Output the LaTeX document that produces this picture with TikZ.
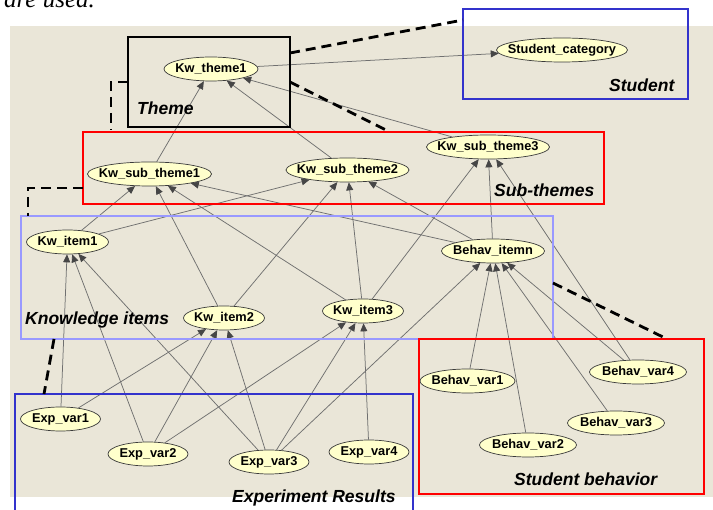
\documentclass[tikz,border=0pt]{standalone}
\usepackage{fontspec}
\setsansfont{Liberation Sans}
\newfontfamily\paperfont{Liberation Serif}
\usetikzlibrary{shapes.geometric,arrows.meta}

\definecolor{canvas}{HTML}{EAE6D8}
\definecolor{nodefill}{HTML}{FFFFCC}
\definecolor{nodeline}{HTML}{3A3A3A}
\definecolor{edgegray}{HTML}{707070}
\definecolor{headgray}{HTML}{464646}
\definecolor{boxred}{HTML}{FF0000}
\definecolor{boxblue}{HTML}{3333CC}
\definecolor{boxlilac}{HTML}{9999FF}

% variable names are set in a zero-width box so the ellipse size is set by the style
\newcommand{\varname}[1]{\makebox[0pt]{\vphantom{Kg}#1}}

\tikzset{
  var/.style={ellipse, draw=nodeline, line width=0.7pt, fill=nodefill,
    inner sep=0pt, minimum height=24pt,
    font=\sffamily\bfseries\fontsize{12.8}{15}\selectfont},
  link/.style={draw=edgegray, line width=0.75pt,
    -{Triangle[length=8pt,width=7pt,color=headgray]}},
  groupbox/.style={line width=2.4pt},
  grouptitle/.style={anchor=base west, inner sep=0pt,
    font=\sffamily\bfseries\itshape\fontsize{17.5}{20}\selectfont},
  tie/.style={draw=black, line width=2.8pt, dash pattern=on 10pt off 6pt}
}

\begin{document}
\begin{tikzpicture}[x=1pt, y=-1pt]
\useasboundingbox (0,0) rectangle (713,510);
\clip (0,0) rectangle (713,510);
\fill[white] (0,0) rectangle (713,510);
\fill[canvas] (10,26) rectangle (713,497);

% fragment of the running text above the figure
\node[anchor=base west, inner sep=0pt,
  font=\paperfont\itshape\fontsize{25}{28}\selectfont] (runtext) at (4,8) {are used.};

% variables
\node[var, minimum width=94pt]  (kt1) at (211,69)   {\varname{Kw\_theme1}};
\node[var, minimum width=131pt] (sc)  at (562,50)   {\varname{Student\_category}};
\node[var, minimum width=124pt] (st1) at (149.5,174) {\varname{Kw\_sub\_theme1}};
\node[var, minimum width=123pt] (st2) at (347.5,170) {\varname{Kw\_sub\_theme2}};
\node[var, minimum width=123pt] (st3) at (488,147)  {\varname{Kw\_sub\_theme3}};
\node[var, minimum width=82pt]  (ki1) at (67.5,242) {\varname{Kw\_item1}};
\node[var, minimum width=81pt]  (ki2) at (224,318)  {\varname{Kw\_item2}};
\node[var, minimum width=81pt]  (ki3) at (363,311)  {\varname{Kw\_item3}};
\node[var, minimum width=103pt] (bi)  at (493,251)  {\varname{Behav\_itemn}};
\node[var, minimum width=95pt]  (bv1) at (467.5,381) {\varname{Behav\_var1}};
\node[var, minimum width=97pt]  (bv2) at (528,445)  {\varname{Behav\_var2}};
\node[var, minimum width=97pt]  (bv3) at (616,423)  {\varname{Behav\_var3}};
\node[var, minimum width=97pt]  (bv4) at (638,372)  {\varname{Behav\_var4}};
\node[var, minimum width=80pt]  (ev1) at (60.5,419) {\varname{Exp\_var1}};
\node[var, minimum width=80pt]  (ev2) at (148,454)  {\varname{Exp\_var2}};
\node[var, minimum width=80pt]  (ev3) at (269,462)  {\varname{Exp\_var3}};
\node[var, minimum width=80pt]  (ev4) at (369,452)  {\varname{Exp\_var4}};

% dependencies (arrow points at the parent)
\foreach \a/\b in {kt1/sc, st1/kt1, st2/kt1, st3/kt1,
  ki1/st1, ki1/st2, ki2/st1, ki2/st2, ki3/st1, ki3/st2, ki3/st3,
  bi/st1, bi/st2, bi/st3,
  ev1/ki1, ev1/ki2, ev2/ki1, ev2/ki2, ev2/ki3,
  ev3/ki1, ev3/ki2, ev3/ki3, ev3/bi, ev4/ki3,
  bv1/bi, bv2/bi, bv3/bi, bv4/bi, bv4/st3}
  \draw[link] (\a) -- (\b);

% group frames
\draw[groupbox, draw=black, line width=2pt] (128,37) rectangle (290,127);
\draw[groupbox, draw=boxblue] (463,9) rectangle (688,99);
\draw[groupbox, draw=boxred] (83,132) rectangle (604,204);
\draw[groupbox, draw=boxlilac] (21,216) rectangle (553,339);
\draw[groupbox, draw=boxred] (419,339) rectangle (704,494);
\draw[groupbox, draw=boxblue] (15,394) rectangle (413,530);

% group titles
\node[grouptitle] (ttheme)   at (137,115) {Theme};
\node[grouptitle] (tstudent) at (609,92)  {Student};
\node[grouptitle] (tsub)     at (494,197) {Sub-themes};
\node[grouptitle] (tknow)    at (25,325)  {Knowledge items};
\node[grouptitle] (tbehav)   at (514,486) {Student behavior};
\node[grouptitle] (texp)     at (232,503) {Experiment Results};

% dashed ties between groups
\coordinate (themeNE) at (290,53);
\coordinate (studentW) at (463,20);
\coordinate (themeE) at (290,82);
\coordinate (subN) at (390,132);
\coordinate (themeW) at (128,82);
\coordinate (subTop) at (111,130);
\coordinate (subW) at (83,188);
\coordinate (knowTop) at (28,216);
\coordinate (knowS) at (54,339);
\coordinate (expN) at (44,394);
\coordinate (knowE) at (553,283);
\coordinate (behavN) at (667,339);

\draw[tie] (themeNE) -- (studentW);
\draw[tie] (themeE) -- (subN);
\draw[tie] (themeW) -| (subTop);
\draw[tie] (subW) -| (knowTop);
\draw[tie] (knowS) -- (expN);
\draw[tie] (knowE) -- (behavN);
\end{tikzpicture}
\end{document}
